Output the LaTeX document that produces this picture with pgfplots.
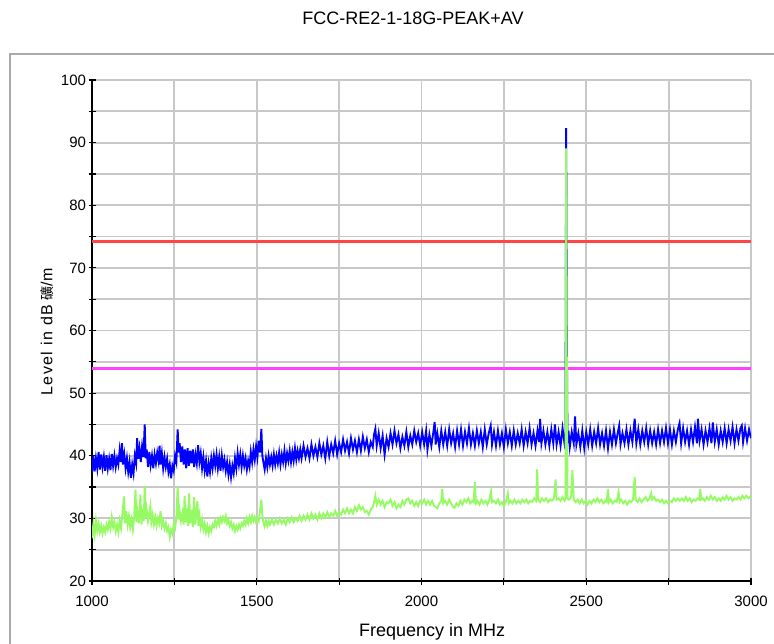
\documentclass[border=0pt]{standalone}
\usepackage{fontspec}
\setmainfont{Liberation Sans}
\newfontfamily\cjk{Noto Sans CJK SC}
\usepackage{pgfplots}
\pgfplotsset{compat=1.18}

\definecolor{gridgray}{RGB}{200,200,200}
\definecolor{framegray}{RGB}{170,170,170}
\definecolor{limred}{RGB}{255,70,70}
\definecolor{limmag}{RGB}{255,64,255}
\definecolor{avgreen}{RGB}{150,250,100}

\begin{document}
\begin{tikzpicture}
\useasboundingbox (0,0) rectangle (774pt,643pt);
\draw[framegray, line width=2pt] (10pt,589pt) rectangle (820pt,-30pt);
\node[font=\fontsize{18}{20}\selectfont] at (413pt,625pt) {FCC-RE2-1-18G-PEAK+AV};
\begin{axis}[
  at={(92pt,62pt)}, anchor=south west,
  scale only axis, width=659pt, height=501pt,
  xmin=1000, xmax=3000, ymin=20, ymax=100,
  axis x line=bottom, axis y line=left,
  axis line style={-, black, line width=1.5pt},
  xtick={1000,1500,...,3000}, minor xtick={1250,1750,...,2750},
  ytick={20,30,...,100}, minor ytick={25,35,...,95},
  tick align=center,
  major tick length=7pt, minor tick length=7pt,
  tick style={black, line width=1.2pt},
  grid=both,
  major grid style={gridgray, line width=1.8pt},
  minor grid style={gridgray, line width=1.8pt},
  tick label style={font=\fontsize{15}{17}\selectfont},
  /pgf/number format/assume math mode=true,
  /pgf/number format/1000 sep={},
  xticklabel style={yshift=-8pt},
  yticklabel style={xshift=1pt},
  xlabel={Frequency in MHz},
  xlabel style={at={(axis description cs:0.516,0)}, anchor=center, yshift=-51pt, font=\fontsize{18}{20}\selectfont},
  ylabel={{\addfontfeature{LetterSpace=9}Level in dB}\ {\cjk\fontsize{14}{16}\selectfont 礦}/m},
  ylabel style={at={(axis description cs:0,0.497)}, anchor=center, yshift=45pt, font=\fontsize{16}{18}\selectfont},
]
% limit lines
\addplot[limred, line width=3pt] coordinates {(1000,74.2) (3000,74.2)};
\addplot[limmag, line width=3pt] coordinates {(1000,54) (3000,54)};
% peak trace
\addplot[blue, line width=1.9pt] coordinates {
(1000,37.2)(1004,40.0)(1008,37.5)(1012,39.6)(1016,38.0)(1020,40.6)(1024,37.8)(1028,40.2)(1032,38.2)(1036,39.8)
(1040,37.6)(1044,40.1)(1048,38.0)(1052,39.5)(1056,37.7)(1060,40.3)(1064,38.4)(1068,40.0)(1072,38.2)(1076,39.6)
(1080,38.6)(1084,40.9)(1088,39.0)(1091,42.0)(1094,38.6)(1098,40.2)(1102,38.0)(1106,39.6)(1110,37.4)(1114,39.0)
(1118,36.5)(1122,38.6)(1126,37.2)(1130,40.0)(1134,38.8)(1137,42.8)(1140,39.5)(1144,41.2)(1148,39.0)(1152,41.5)
(1156,39.8)(1160,45.0)(1163,39.6)(1166,41.0)(1170,38.2)(1174,40.6)(1178,38.5)(1182,40.0)(1186,38.0)(1190,40.2)
(1194,38.8)(1198,40.5)(1202,39.2)(1205,41.6)(1208,38.6)(1212,40.4)(1216,38.0)(1220,39.8)(1224,38.2)(1228,39.5)
(1232,37.4)(1236,38.6)(1240,36.4)(1244,38.4)(1248,37.6)(1252,40.0)(1256,39.0)(1260,44.2)(1263,40.5)(1266,42.0)
(1270,39.0)(1274,41.5)(1278,38.6)(1282,41.0)(1286,38.0)(1290,41.2)(1294,38.4)(1298,40.8)(1302,38.8)(1306,41.0)
(1310,38.2)(1314,40.2)(1318,38.8)(1322,41.7)(1326,39.0)(1330,40.4)(1334,38.0)(1338,39.8)(1342,37.6)(1346,39.2)
(1350,36.7)(1354,38.8)(1358,37.4)(1362,39.6)(1366,38.0)(1370,40.0)(1374,38.4)(1378,40.2)(1382,38.0)(1386,39.8)
(1390,37.6)(1394,40.0)(1398,38.2)(1402,39.4)(1406,37.6)(1410,39.0)(1414,37.0)(1418,38.6)(1422,36.6)(1426,38.4)
(1430,37.2)(1434,39.6)(1438,38.0)(1442,40.4)(1446,38.6)(1450,40.2)(1454,38.2)(1458,40.0)(1462,38.4)(1466,39.6)
(1470,37.8)(1474,39.2)(1478,38.2)(1482,40.6)(1486,39.0)(1490,41.0)(1494,39.4)(1498,41.5)(1502,39.8)(1506,42.4)
(1510,40.5)(1514,44.3)(1517,40.0)(1520,39.0)(1524,37.8)(1528,39.6)(1532,38.2)(1536,40.0)(1540,38.6)(1544,39.8)
(1548,38.4)(1552,40.2)(1556,38.6)(1560,40.0)(1564,38.8)(1568,40.5)(1572,38.6)(1576,40.2)(1580,39.0)(1584,40.8)
(1588,38.8)(1592,40.4)(1596,39.2)(1600,40.8)(1604,39.0)(1608,40.6)(1612,39.2)(1616,41.2)(1620,39.4)(1624,40.8)
(1628,39.6)(1632,41.0)(1636,39.6)(1642,41.6)(1648,39.8)(1654,41.2)(1660,39.6)(1666,41.8)(1672,40.0)(1678,41.4)
(1684,39.8)(1690,42.0)(1696,40.2)(1702,41.6)(1708,39.6)(1714,42.2)(1720,40.0)(1726,41.8)(1732,40.4)(1738,42.4)
(1744,40.2)(1750,42.0)(1756,40.6)(1762,42.6)(1768,40.8)(1774,42.2)(1780,40.4)(1786,42.8)(1792,41.0)(1798,42.4)
(1804,40.6)(1810,42.6)(1816,40.8)(1822,43.0)(1828,41.2)(1834,42.6)(1840,40.6)(1846,42.2)(1852,41.4)(1856,43.4)
(1860,44.3)(1864,41.6)(1870,43.6)(1876,41.2)(1882,43.2)(1888,40.2)(1894,42.8)(1900,41.4)(1906,43.6)(1912,41.8)
(1918,44.0)(1924,42.0)(1930,43.4)(1936,41.2)(1942,43.0)(1948,41.6)(1954,43.8)(1960,41.4)(1966,43.2)(1972,41.8)
(1978,44.0)(1984,42.2)(1990,43.6)(1996,41.6)(2002,43.8)(2008,41.8)(2014,44.0)(2018,41.0)(2024,43.4)(2030,41.6)
(2036,43.8)(2040,45.4)(2043,41.8)(2048,43.6)(2054,41.4)(2060,44.0)(2066,41.8)(2072,43.8)(2078,41.6)(2084,44.2)
(2090,42.0)(2096,43.6)(2102,41.4)(2108,44.0)(2114,41.8)(2120,44.2)(2126,41.6)(2132,43.8)(2138,42.0)(2144,44.4)
(2150,41.8)(2156,43.6)(2162,41.6)(2168,44.0)(2174,42.0)(2180,43.8)(2186,41.4)(2192,44.2)(2198,41.8)(2204,43.6)
(2210,44.8)(2214,41.8)(2220,43.8)(2226,41.6)(2232,44.0)(2238,41.8)(2244,43.6)(2250,41.4)(2256,44.2)(2262,42.0)
(2268,43.8)(2274,41.6)(2280,44.0)(2286,41.8)(2292,43.6)(2298,42.0)(2304,44.2)(2310,41.6)(2316,43.8)(2322,42.0)
(2328,44.4)(2334,41.8)(2340,43.6)(2346,41.6)(2352,44.0)(2357,42.2)(2360,45.9)(2364,42.0)(2370,44.0)(2376,41.8)
(2382,43.8)(2388,41.6)(2394,44.2)(2400,42.0)(2405,45.0)(2410,41.8)(2416,43.8)(2422,41.6)(2428,44.4)(2434,42.0)
(2437,43.0)(2439,92.3)(2441,60.0)(2443,42.0)(2446,44.0)(2450,41.4)(2456,43.8)(2462,42.0)(2466,46.3)(2470,41.8)
(2476,43.6)(2482,41.4)(2488,44.0)(2494,41.2)(2500,43.8)(2506,41.8)(2512,44.2)(2518,41.6)(2524,43.8)(2530,42.0)
(2536,44.4)(2542,41.8)(2548,43.6)(2554,41.6)(2560,44.0)(2566,41.2)(2572,43.8)(2578,41.8)(2584,44.2)(2590,42.0)
(2596,43.8)(2600,44.8)(2604,41.8)(2610,43.6)(2616,42.0)(2622,44.2)(2628,41.8)(2634,44.0)(2640,42.2)(2647,45.9)
(2652,42.0)(2658,44.2)(2664,41.8)(2670,44.0)(2676,42.2)(2682,44.4)(2688,41.8)(2694,44.0)(2700,42.0)(2706,43.8)
(2712,41.8)(2718,44.2)(2724,42.0)(2730,44.0)(2736,42.2)(2742,44.4)(2748,42.0)(2754,44.2)(2760,41.8)(2766,44.0)
(2772,42.2)(2778,44.2)(2783,45.2)(2788,42.0)(2794,44.4)(2800,42.2)(2806,44.0)(2812,41.8)(2818,44.2)(2824,42.2)
(2830,44.6)(2836,42.0)(2839,45.9)(2844,42.4)(2850,44.2)(2856,41.8)(2862,44.0)(2868,42.2)(2874,44.4)(2880,42.0)
(2884,45.3)(2890,42.2)(2896,44.2)(2902,41.8)(2908,44.0)(2914,42.2)(2920,44.4)(2926,42.0)(2932,44.2)(2938,42.4)
(2944,44.6)(2950,42.0)(2956,44.2)(2962,42.4)(2968,44.4)(2972,44.8)(2976,42.2)(2982,44.4)(2988,42.4)(2994,44.2)
(3000,42.8)
};
% average trace
\addplot[avgreen, line width=1.9pt] coordinates {
(1000,26.8)(1004,29.0)(1008,27.4)(1012,29.6)(1016,28.0)(1020,29.2)(1024,27.8)(1028,28.8)(1032,27.6)(1036,28.6)
(1040,27.8)(1044,29.0)(1048,28.2)(1052,29.4)(1056,28.4)(1060,30.2)(1064,28.6)(1068,29.4)(1072,28.0)(1076,29.0)
(1080,27.8)(1084,29.6)(1088,28.4)(1092,30.6)(1097,33.5)(1100,29.2)(1104,31.2)(1108,29.0)(1112,30.4)(1116,28.6)
(1120,29.8)(1124,28.2)(1128,30.2)(1132,34.6)(1135,29.4)(1138,31.0)(1142,29.2)(1147,33.8)(1150,29.0)(1154,31.6)
(1157,29.6)(1160,35.2)(1163,30.0)(1166,31.4)(1170,29.6)(1174,30.8)(1177,31.9)(1180,29.4)(1184,30.6)(1188,29.0)
(1192,30.2)(1196,28.8)(1200,30.0)(1204,29.2)(1208,31.2)(1212,28.8)(1216,29.6)(1220,28.4)(1224,29.2)(1228,28.0)
(1232,28.6)(1236,27.0)(1240,28.2)(1244,27.6)(1248,29.0)(1252,28.4)(1256,30.0)(1260,35.2)(1263,29.8)(1266,31.2)
(1270,29.6)(1274,30.8)(1278,29.0)(1281,33.6)(1284,29.4)(1288,31.0)(1292,28.8)(1295,34.0)(1298,29.2)(1302,31.4)
(1306,28.6)(1310,33.4)(1313,29.0)(1316,30.6)(1320,32.8)(1323,28.8)(1326,30.4)(1330,28.6)(1334,29.8)(1338,28.2)
(1342,29.2)(1346,27.8)(1350,28.8)(1354,27.6)(1358,28.6)(1362,28.0)(1366,29.0)(1370,28.6)(1374,29.6)(1378,28.8)
(1382,29.8)(1386,29.0)(1390,30.0)(1394,29.4)(1398,30.2)(1402,29.6)(1406,30.4)(1410,29.2)(1414,29.8)(1418,28.8)
(1422,29.4)(1426,28.4)(1430,29.0)(1434,28.0)(1438,28.8)(1442,28.2)(1446,29.0)(1450,28.4)(1454,29.2)(1458,28.8)
(1462,29.6)(1466,29.0)(1470,30.0)(1474,29.2)(1478,30.2)(1482,29.4)(1486,30.4)(1490,29.6)(1494,30.2)(1498,29.4)
(1502,30.0)(1506,29.6)(1510,31.2)(1514,33.0)(1517,30.4)(1520,29.4)(1524,28.7)(1528,29.6)(1532,28.8)(1536,29.6)
(1540,29.0)(1546,29.8)(1552,29.0)(1558,29.8)(1564,29.2)(1570,30.0)(1576,29.2)(1582,29.8)(1588,29.0)(1594,30.0)
(1600,29.4)(1606,30.2)(1612,29.4)(1618,30.0)(1624,29.6)(1630,30.4)(1636,29.6)(1642,30.4)(1648,29.8)(1654,30.6)
(1660,29.8)(1666,30.8)(1672,30.0)(1678,30.6)(1684,29.8)(1690,30.8)(1696,30.0)(1702,30.8)(1708,30.2)(1714,31.0)
(1720,30.2)(1726,30.8)(1732,30.4)(1738,31.2)(1744,30.4)(1750,31.0)(1756,30.6)(1762,31.4)(1768,30.8)(1774,31.6)
(1780,30.8)(1786,31.4)(1792,30.8)(1798,31.8)(1804,31.2)(1810,32.1)(1816,31.4)(1822,31.8)(1828,31.0)(1834,31.2)
(1840,30.6)(1846,31.4)(1852,31.8)(1856,32.6)(1860,33.6)(1864,32.2)(1870,33.0)(1876,32.2)(1882,32.8)(1888,31.8)
(1894,32.6)(1900,32.4)(1906,33.0)(1912,32.0)(1918,32.6)(1924,31.6)(1930,32.2)(1936,31.8)(1942,32.8)(1948,32.2)
(1954,33.0)(1960,33.2)(1966,32.4)(1972,32.8)(1978,32.0)(1984,32.6)(1990,32.0)(1996,32.8)(2002,32.4)(2008,33.0)
(2014,32.2)(2020,32.8)(2026,32.2)(2032,32.8)(2038,32.0)(2044,31.8)(2048,31.6)(2054,32.4)(2060,32.8)(2063,34.7)
(2066,32.4)(2072,32.8)(2078,32.2)(2084,33.0)(2090,32.4)(2096,31.8)(2100,31.7)(2106,32.4)(2112,32.0)(2118,32.8)
(2124,32.2)(2130,33.0)(2136,32.6)(2142,33.2)(2148,32.4)(2154,32.8)(2158,32.6)(2162,35.8)(2165,32.4)(2170,32.8)
(2176,32.2)(2182,33.0)(2188,32.4)(2194,32.8)(2200,32.2)(2206,33.0)(2211,34.3)(2214,32.6)(2220,32.8)(2226,32.4)
(2232,33.0)(2238,32.2)(2244,32.6)(2250,32.0)(2256,32.6)(2262,34.0)(2265,32.4)(2270,32.8)(2276,32.4)(2282,33.0)
(2288,32.4)(2294,32.8)(2300,32.4)(2306,33.0)(2312,32.6)(2318,33.0)(2324,32.4)(2330,32.8)(2336,32.6)(2342,33.2)
(2348,32.8)(2351,37.8)(2354,33.0)(2360,32.6)(2366,33.2)(2372,32.8)(2378,33.2)(2384,32.6)(2390,33.0)(2396,32.8)
(2402,33.2)(2407,36.2)(2410,33.0)(2416,33.2)(2422,32.8)(2428,33.4)(2434,32.8)(2437,33.0)(2439,89.1)(2441,55.0)
(2443,33.2)(2448,33.0)(2454,33.4)(2458,37.7)(2462,33.0)(2468,32.6)(2474,33.0)(2480,32.4)(2486,33.0)(2492,32.4)
(2498,32.8)(2504,32.2)(2510,32.8)(2516,32.4)(2522,33.0)(2528,32.6)(2534,33.2)(2540,32.6)(2546,33.0)(2552,32.4)
(2558,32.8)(2562,32.6)(2566,34.7)(2569,32.6)(2574,33.0)(2580,32.4)(2586,32.8)(2592,32.6)(2598,34.2)(2601,32.6)
(2606,33.0)(2612,32.4)(2618,32.8)(2624,32.2)(2630,32.8)(2636,32.6)(2642,33.0)(2647,36.6)(2650,33.0)(2656,32.6)
(2662,33.2)(2668,32.6)(2674,33.0)(2680,33.4)(2686,32.8)(2692,33.2)(2697,34.0)(2700,33.0)(2706,33.4)(2712,32.8)
(2718,33.0)(2724,32.6)(2730,33.0)(2736,32.4)(2742,32.8)(2748,32.4)(2754,32.8)(2760,32.6)(2766,33.2)(2772,32.8)
(2778,33.2)(2784,32.8)(2790,33.2)(2796,32.8)(2802,33.4)(2808,32.8)(2814,33.2)(2820,32.6)(2826,33.0)(2832,32.8)
(2838,33.2)(2843,33.0)(2846,34.7)(2849,33.0)(2854,33.2)(2860,32.8)(2866,33.4)(2872,33.0)(2878,33.6)(2884,33.0)
(2890,33.4)(2896,32.8)(2902,33.2)(2908,32.8)(2914,33.4)(2920,33.0)(2926,33.6)(2932,33.0)(2938,33.4)(2944,32.8)
(2950,33.2)(2956,33.0)(2962,33.4)(2968,33.0)(2974,33.6)(2980,33.2)(2986,33.6)(2992,33.2)(3000,33.6)
};
\end{axis}
\end{tikzpicture}
\end{document}
